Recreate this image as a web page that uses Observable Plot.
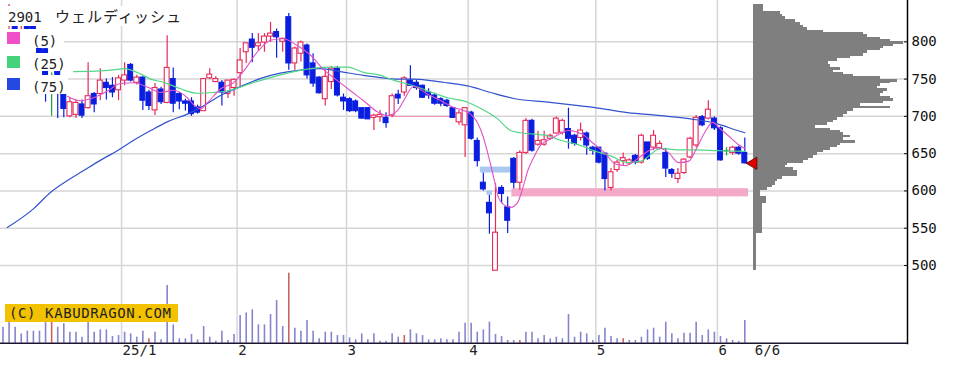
<!DOCTYPE html>
<html><head><meta charset="utf-8">
<script src="https://cdn.jsdelivr.net/npm/d3@7"></script>
<script src="https://cdn.jsdelivr.net/npm/@observablehq/plot@0.6"></script>
<style>
html,body{margin:0;padding:0;background:#fff;}
#wrap{position:relative;width:969px;height:371px;overflow:hidden;background:#fff;}
#wrap svg{position:absolute;left:0;top:0;}
.box{position:absolute;background:#fff;}
.txt{position:absolute;white-space:nowrap;color:#222;font-family:"DejaVu Sans Mono",monospace;font-size:14px;line-height:14px;}
.sq{position:absolute;width:13px;height:12px;}
</style></head><body><div id="wrap"></div>
<script>
// ---- candles (one per trading day, Dec 2024 .. 6 Jun 2025) ----
const openP = [838,826,832,803,822,826,798,790,735,760,
735,700,702,716,711,730,730,745,741,735,
748,769,745,752,732,708,736,718,750,730,
720,720,712,707,751,746,745,730,738,758,
786,803,794,799,807,813,800,833,771,784,
795,771,752,723,746,764,725,723,720,711,
711,698,699,698,701,729,732,748,745,741,
732,728,723,721,711,692,688,705,667,611,
584,493,604,578,643,611,651,694,662,662,
670,677,678,683,674,671,677,658,658,650,
604,628,640,637,647,638,665,658,657,651,
628,616,624,645,661,699,697,697,684,654,
651,658,651];
const highP = [842,850,836,822,826,828,801,792,758,762,
750,725,722,722,772,732,764,750,752,755,
772,771,755,753,735,744,739,808,765,732,
723,725,715,750,764,753,748,748,750,791,
798,811,811,811,826,817,805,838,793,801,
797,784,753,762,767,767,730,725,722,711,
711,703,708,705,730,735,753,768,748,742,
737,731,725,723,711,708,711,707,671,624,
594,610,607,592,645,654,697,696,680,680,
676,699,696,711,676,691,679,660,658,651,
630,641,651,643,649,676,665,681,667,657,
630,630,643,672,701,701,721,699,686,658,
660,660,671];
const lowP = [824,812,808,798,806,795,772,719,700,697,
698,698,697,697,710,705,721,722,725,721,
741,746,742,708,708,701,716,717,705,709,
707,700,703,707,749,745,714,724,727,739,
771,772,788,786,799,778,786,762,762,773,
750,739,730,714,736,726,708,705,705,696,
696,681,692,684,698,716,727,740,735,724,
723,715,713,712,697,688,645,668,632,600,
542,493,583,543,603,601,649,652,660,660,
668,676,675,656,660,667,648,648,636,600,
600,625,634,635,635,636,641,654,655,618,
617,610,622,643,658,686,695,681,640,647,
648,648,636];
const closeP = [826,844,812,812,816,798,780,735,735,730,
710,719,718,701,727,716,748,738,732,751,
755,748,752,721,714,738,719,765,717,720,
717,703,705,750,756,750,732,748,749,775,
798,792,798,807,811,806,804,771,791,799,
755,744,731,753,764,728,720,707,707,697,
696,701,702,691,727,724,751,741,738,725,
728,717,717,714,698,704,711,670,640,602,
570,544,596,560,611,651,694,654,667,668,
674,697,694,670,663,681,661,654,638,616,
625,638,644,641,638,674,643,674,663,630,
623,623,642,670,698,688,709,684,641,654,
658,650,637];
// ---- volume (relative units) ----
const volume = [48,63,48,28,36,36,36,63,63,48,
58,33,33,18,63,33,40,40,20,23,
33,28,18,36,13,33,10,173,55,13,
13,26,10,50,18,6,36,8,26,83,
91,100,55,55,86,128,50,210,45,36,
68,36,13,33,33,23,23,16,10,28,
10,28,6,6,28,18,23,40,28,23,
10,10,13,10,10,33,60,60,33,40,
63,26,20,8,8,8,33,33,13,23,
13,18,13,86,18,33,28,8,23,45,
20,13,13,8,8,18,40,45,18,63,
28,13,30,30,63,23,40,33,20,13,
8,5,68];
const volRedDays = [8,24,47,66,85,102];
// ---- time axis ----
const monthLabels = ["25/1","2","3","4","5","6"];
const monthFirstDay = [20,39,57,77,98,118];
const lastDayLabel = "6/6";
const priceTicks = [500,550,600,650,700,750,800];
// ---- moving averages ----
const ma5Day = [10.6,12.7,14.9,17.2,19.3,21.5,23.8,25.9,28.0,30.3,31.3,32.5,33.6,35.8,37.9,39.6,41.9,44.0,46.1,48.4,50.6,52.7,55.0,57.2,59.3,61.6,63.2,64.9,65.9,67.5,69.8,72.0,74.1,75.7,76.9,78.0,79.0,79.9,80.7,81.5,82.3,83.5,84.6,85.5,86.3,87.3,88.4,90.1,91.7,93.0,95.3,96.9,99.1,100.7,102.4,104.0,106.2,107.8,109.5,111.1,112.8,114.0,115.6,116.7,118.0,119.3,120.8,122.0];
const ma5Val = [727,721,725,734,744,745,739,732,735,725,716,710,718,737,745,761,787,802,804,795,782,763,748,734,721,706,701,708,721,740,730,721,712,708,703,692,672,645,618,591,582,578,584,604,627,645,661,670,677,681,676,665,650,636,634,641,654,658,651,638,640,656,681,692,683,674,663,657];
const ma25Day = [11.6,16.0,18.8,19.8,22.6,24.3,26.7,29.2,32.0,34.6,37.4,40.7,44.0,47.3,50.6,53.9,56.7,59.3,62.1,63.7,67.5,73.1,76.4,78.5,81.3,83.5,85.1,89.6,91.7,95.0,97.1,99.9,102.7,104.9,108.2,110.9,113.6,117.5,122.0];
const ma25Val = [760,761,763,764,757,750,745,737,731,732,735,744,752,759,764,766,766,759,755,750,741,725,719,711,697,681,678,674,668,661,654,647,638,640,657,655,655,654,653];
const ma75Day = [0.7,5.0,7.8,10.6,13.2,16.0,18.8,21.5,24.3,27.1,30.3,32.5,35.8,39.1,42.4,45.6,48.9,52.2,55.5,59.3,62.1,64.9,67.5,70.3,73.1,76.4,80.2,84.0,89.6,95.0,97.1,102.7,108.2,113.6,117.5,120.8,122.0];
const ma75Val = [551,576,598,614,627,641,654,668,681,693,703,712,728,740,751,758,762,764,760,755,752,750,750,748,745,741,732,724,719,714,712,705,701,696,690,681,678];
// ---- price gaps (windows) and reference line ----
const gapFrom = [78.5,79.6,83.7];
const gapTo = [83.7,80.5,122.6];
const gapLo = [624,594,592];
const gapHi = [632,600,603];
const gapKind = ["down","down","up"];
const refLevel = [700], refFrom = [63.8], refTo = [76];
const markerOffset = 1.4;
// ---- price-by-volume profile ----
const profEdges = [850,840,837,834,830,826,822,819,815,812,810,806,803,800,796,794,791,788,784,780,777,773,769,766,762,759,756,753,750,746,744,740,737,734,730,727,724,720,717,713,710,707,703,699,695,692,688,684,681,678,674,671,668,664,661,658,654,651,648,644,641,637,634,631,627,623,619,616,612,607,604,600,596,592,583,543,493];
const profVol = [28,80,85,95,125,140,150,160,210,330,340,380,410,450,420,390,380,340,330,290,250,225,230,260,240,270,300,380,430,410,380,370,400,390,380,410,420,390,320,410,300,280,270,250,240,220,185,230,260,270,290,270,305,260,250,230,210,190,180,165,150,100,95,120,130,130,85,70,65,55,40,20,20,38,25,7];

const RED = "#e62a58", BLUE = "#0a1ee0", GREEN = "#1fa040";
const candles = openP.map((o, i) => ({i, o, h: highP[i], l: lowP[i], c: closeP[i]}));
const colorOf = d => d.c > d.o ? RED : d.c < d.o ? BLUE : GREEN;
const vols = volume.map((v, i) => ({i, v, red: volRedDays.includes(i)}));
const ma = (days, vals) => days.map((d, k) => ({d, v: vals[k]}));
const gaps = gapFrom.map((f, k) => ({f, t: gapTo[k], lo: gapLo[k], hi: gapHi[k], kind: gapKind[k]}));
const bins = profVol.map((v, k) => ({hi: profEdges[k], lo: profEdges[k + 1], v}));

const X = {domain: [0, 122], range: [2.5, 744.3], axis: null};
const YP = {domain: [500, 800], range: [265, 41.3], axis: null};
const common = {width: 969, height: 371, marginLeft: 0, marginRight: 62, marginTop: 0, marginBottom: 28,
  color: {type: "identity"},
  style: {background: "transparent", fontFamily: "DejaVu Sans Mono, monospace", fontSize: "14px", overflow: "visible"}};

const grid = Plot.plot({...common, x: X, y: YP, marks: [
  Plot.ruleY(priceTicks, {stroke: "#d6d6d6", strokeWidth: 1.5}),
  Plot.ruleX(monthFirstDay, {x: d => d - 0.5, stroke: "#d6d6d6", strokeWidth: 1.5}),
  Plot.axisY(priceTicks, {anchor: "right", tickSize: -4, tickPadding: 8, color: "#111", fontSize: 14, tickFormat: d => String(d)}),
  Plot.frame({anchor: "right", stroke: "#000", strokeWidth: 1.5}),
  Plot.text(monthLabels, {x: (d, k) => monthFirstDay[k], frameAnchor: "bottom", dy: 11, dx: -2, textAnchor: "start", fill: "#222", fontSize: 14}),
  Plot.text([lastDayLabel], {x: () => closeP.length - 1, frameAnchor: "bottom", dy: 11, dx: 10, textAnchor: "start", fill: "#222", fontSize: 14})
]});

const vol = Plot.plot({...common, x: X, y: {domain: [0, 210], range: [342.7, 272.7], axis: null}, marks: [
  Plot.ruleX(vols, {x: "i", y1: 0, y2: "v", stroke: d => d.red ? "#c86464" : "#8585cf", strokeWidth: 1.6}),
  Plot.ruleY([0], {stroke: "#1c1430", strokeWidth: 1.5})
]});

const price = Plot.plot({...common, x: X, y: YP, marks: [
  Plot.rect(gaps, {x1: "f", x2: "t", y1: "lo", y2: "hi", fill: d => d.kind === "up" ? "#f4a9c9" : "#abc9f0"}),
  Plot.ruleY(refLevel, {x1: (d, k) => refFrom[k], x2: (d, k) => refTo[k], stroke: "#f08aa8", strokeWidth: 1}),
  Plot.ruleX(candles, {x: "i", y1: "l", y2: "h", stroke: colorOf, strokeWidth: 1.2}),
  Plot.rect(candles.filter(d => d.c !== d.o), {x1: d => d.i - 0.4, x2: d => d.i + 0.4,
    y1: d => Math.min(d.o, d.c), y2: d => Math.max(d.o, d.c),
    fill: d => d.c > d.o ? "#fff" : BLUE, stroke: colorOf, strokeWidth: 1.1}),
  Plot.ruleY(candles.filter(d => d.c === d.o), {y: "c", x1: d => d.i - 0.45, x2: d => d.i + 0.45, stroke: GREEN, strokeWidth: 1.5}),
  Plot.line(ma(ma75Day, ma75Val), {x: "d", y: "v", stroke: "#3352cf", strokeWidth: 1.2, curve: "monotone-x"}),
  Plot.line(ma(ma25Day, ma25Val), {x: "d", y: "v", stroke: "#52d68a", strokeWidth: 1.2, curve: "monotone-x"}),
  Plot.line(ma(ma5Day, ma5Val), {x: "d", y: "v", stroke: "#e052c6", strokeWidth: 1.1, curve: "monotone-x"}),
  Plot.dot([candles[candles.length - 1]], {x: d => d.i + markerOffset, y: "c", symbol: "triangle", rotate: -90, r: 4.6, fill: "#e00000", stroke: "#5a0000", strokeWidth: 0.8})
]});

const prof = Plot.plot({...common, x: {domain: [0, 450], range: [753.3, 903.3], axis: null}, y: YP, marks: [
  Plot.rect(bins, {x1: 0, x2: "v", y1: "lo", y2: "hi", fill: "#7f7f7f", shapeRendering: "crispEdges"})
]});

const wrap = document.getElementById("wrap");
[grid, vol, prof, price].forEach(s => wrap.appendChild(s));

// legend & caption (HTML overlay)
const html = `
<div class="box" style="left:0;top:6px;width:190px;height:20px"></div>
<div class="box" style="left:0;top:29px;width:64px;height:19px"></div>
<div class="box" style="left:0;top:53px;width:71px;height:18px"></div>
<div class="box" style="left:0;top:75px;width:68px;height:19px"></div>
<div class="txt" style="left:8px;top:10px">2901</div>
<div class="txt" style="left:55px;top:7px;font-family:'Noto Sans CJK JP',sans-serif;font-size:15px;line-height:18px;letter-spacing:1px">ウェルディッシュ</div>
<div class="sq" style="left:7px;top:32px;background:#f050c8"></div>
<div class="txt" style="left:32px;top:34px">(5)</div>
<div class="sq" style="left:7px;top:56px;background:#45d27a"></div>
<div class="txt" style="left:32px;top:57px">(25)</div>
<div class="sq" style="left:7px;top:78px;background:#2448e0"></div>
<div class="txt" style="left:32px;top:80px">(75)</div>
<div class="txt" style="left:5px;top:304px;width:173px;height:18px;line-height:18px;background:#f2c200;padding-left:4px;box-sizing:border-box;letter-spacing:0.6px">(C) KABUDRAGON.COM</div>`;
wrap.insertAdjacentHTML("beforeend", html);
</script></body></html>
